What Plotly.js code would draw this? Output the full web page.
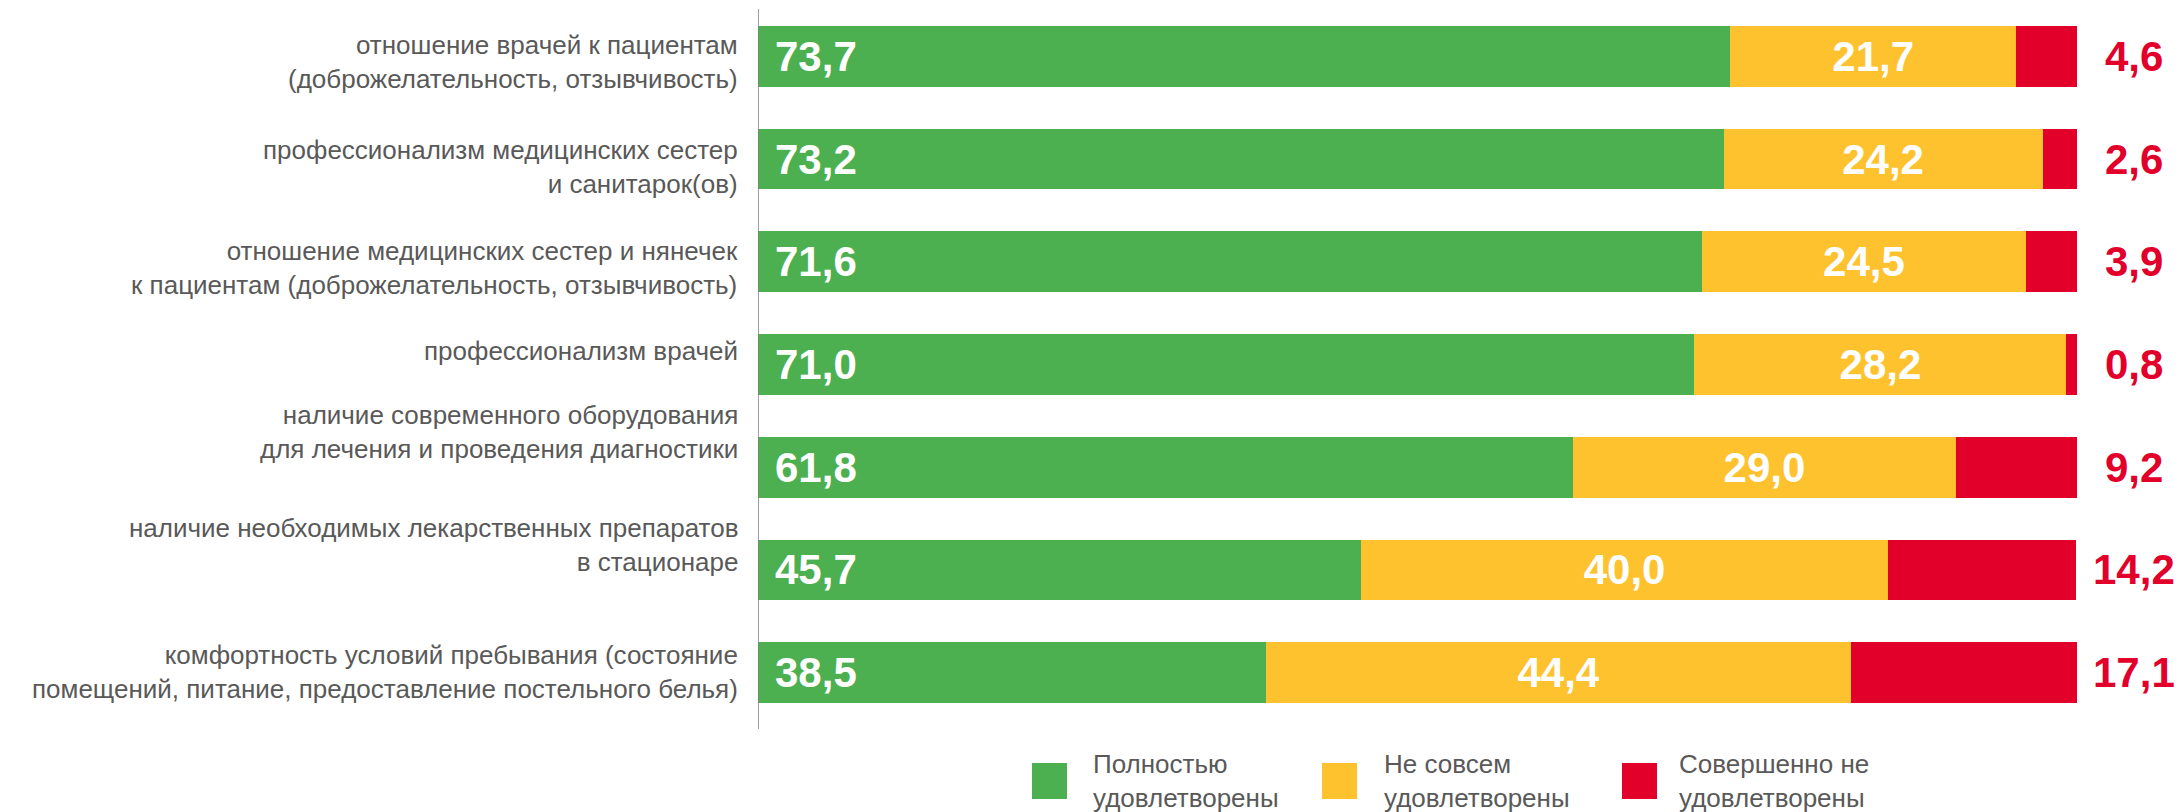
<!DOCTYPE html>
<html>
<head>
<meta charset="utf-8">
<script src="https://cdn.plot.ly/plotly-3.0.1.min.js"></script>
<style>
html,body{margin:0;padding:0;background:#ffffff;}
#chart{width:2182px;height:812px;}
</style>
</head>
<body>
<div id="chart"></div>
<script>
// ---- data ----
const categories = [
  'отношение врачей к пациентам<br>(доброжелательность, отзывчивость)',
  'профессионализм медицинских сестер<br>и санитарок(ов)',
  'отношение медицинских сестер и нянечек<br>к пациентам (доброжелательность, отзывчивость)',
  'профессионализм врачей',
  'наличие современного оборудования<br>для лечения и проведения диагностики',
  'наличие необходимых лекарственных препаратов<br>в стационаре',
  'комфортность условий пребывания (состояние<br>помещений, питание, предоставление постельного белья)'
];
const fullySatisfied = [73.7, 73.2, 71.6, 71.0, 61.8, 45.7, 38.5];
const notQuiteSatisfied = [21.7, 24.2, 24.5, 28.2, 29.0, 40.0, 44.4];
const notAtAllSatisfied = [4.6, 2.6, 3.9, 0.8, 9.2, 14.2, 17.1];
const seriesNames = [
  'Полностью<br>удовлетворены',
  'Не совсем<br>удовлетворены',
  'Совершенно не<br>удовлетворены'
];

// ---- style ----
const colors = ['#4CAF50', '#FEC22E', '#E2002B'];
const FONT = '"Liberation Sans", Arial, sans-serif';
const W = 2182, H = 812;
const M = {l: 758, r: 105, t: 5, b: 88};
const plotW = W - M.l - M.r, plotH = H - M.t - M.b;
const pxX = p => (p - M.l) / plotW;
const pxY = p => (H - M.b - p) / plotH;
const fmt = v => v.toFixed(1).replace('.', ',');
// vertical nudges of the category labels (as placed in the original), px
const labelShift = [-6, -8, -6, 14, 35, 25, 1];

const traces = [
  {type: 'bar', orientation: 'h', y: categories, x: fullySatisfied, name: seriesNames[0],
   marker: {color: colors[0]}, hoverinfo: 'x', showlegend: false},
  {type: 'bar', orientation: 'h', y: categories, x: notQuiteSatisfied, name: seriesNames[1],
   marker: {color: colors[1]}, showlegend: false,
   text: notQuiteSatisfied.map(fmt), textposition: 'inside', insidetextanchor: 'middle',
   textangle: 0, constraintext: 'none',
   insidetextfont: {family: FONT, size: 42, color: '#ffffff', weight: 'bold'}},
  {type: 'bar', orientation: 'h', y: categories, x: notAtAllSatisfied, name: seriesNames[2],
   marker: {color: colors[2]}, hoverinfo: 'x', showlegend: false}
];

const annotations = [];
categories.forEach((c, i) => {
  // category label
  annotations.push({x: 0, y: c, xref: 'x', yref: 'y', xanchor: 'right', yanchor: 'middle',
    xshift: -18, yshift: labelShift[i], align: 'right', showarrow: false, text: c,
    font: {family: FONT, size: 26, color: '#595959'}});
  annotations.push({x: 0, y: c, xref: 'x', yref: 'y', xanchor: 'left', yanchor: 'middle',
    xshift: 15, showarrow: false, text: fmt(fullySatisfied[i]),
    font: {family: FONT, size: 42, color: '#ffffff', weight: 'bold'}});
  annotations.push({x: 100, y: c, xref: 'x', yref: 'y', xanchor: 'center', yanchor: 'middle',
    xshift: 57, showarrow: false, text: fmt(notAtAllSatisfied[i]),
    font: {family: FONT, size: 42, color: colors[2], weight: 'bold'}});
});

// custom legend (large swatches)
const legendSwatchX = [1032, 1322, 1622];
const legendTextX = [1093, 1384, 1679];
const shapes = [
  {type: 'line', xref: 'x', yref: 'paper', x0: 0, x1: 0, y0: pxY(9), y1: pxY(729),
   line: {color: '#7F7F7F', width: 1.5}}
];
seriesNames.forEach((n, i) => {
  shapes.push({type: 'rect', xref: 'paper', yref: 'paper',
    x0: pxX(legendSwatchX[i]), x1: pxX(legendSwatchX[i] + 35),
    y0: pxY(763), y1: pxY(799), fillcolor: colors[i], line: {width: 0}});
  annotations.push({xref: 'paper', yref: 'paper', x: pxX(legendTextX[i] - 2), y: pxY(781),
    xanchor: 'left', yanchor: 'middle', align: 'left', showarrow: false, text: n,
    font: {family: FONT, size: 26, color: '#595959'}});
});

const layout = {
  width: W, height: H, autosize: false,
  margin: {l: M.l, r: M.r, t: M.t, b: M.b, pad: 0},
  paper_bgcolor: '#ffffff', plot_bgcolor: '#ffffff',
  barmode: 'stack', bargap: 0.41,
  separators: ', ',
  showlegend: false,
  font: {family: FONT, color: '#595959'},
  xaxis: {range: [0, 100], visible: false, fixedrange: true},
  yaxis: {type: 'category', categoryorder: 'array', categoryarray: categories,
    autorange: 'reversed', showline: false, showgrid: false, zeroline: false,
    ticks: '', showticklabels: false, fixedrange: true},
  shapes: shapes,
  annotations: annotations
};

Plotly.newPlot('chart', traces, layout, {displayModeBar: false, staticPlot: true});
</script>
</body>
</html>
